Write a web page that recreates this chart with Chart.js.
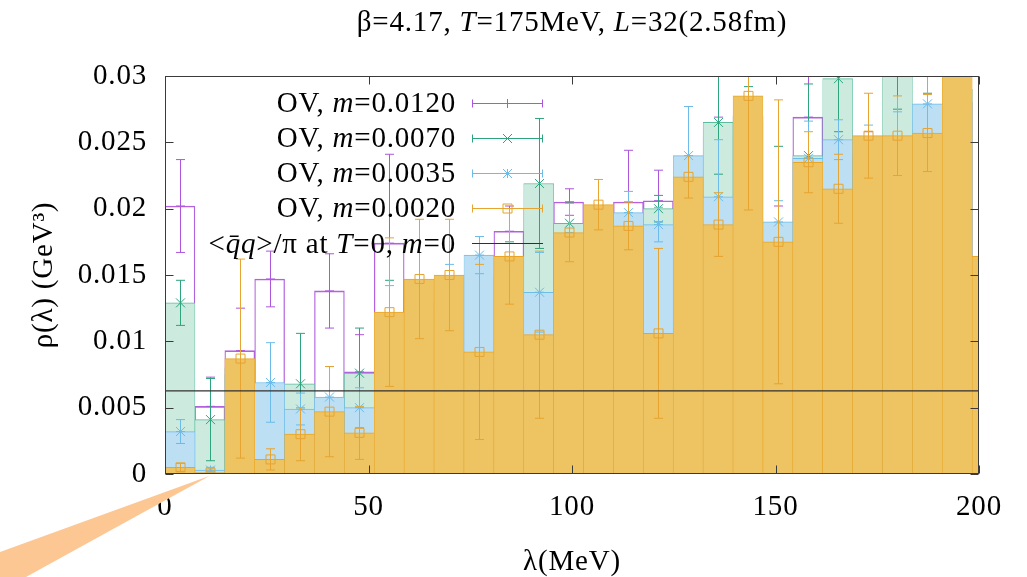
<!DOCTYPE html>
<html><head><meta charset="utf-8">
<script src="https://cdn.jsdelivr.net/npm/chart.js@4.4.0/dist/chart.umd.min.js"></script>
<style>html,body{margin:0;padding:0;background:#fff;} canvas{display:block;}</style>
</head><body>
<canvas id="c" width="1027" height="577"></canvas>
<script>
// ---------- data ----------
const lambdaBins = [3.67, 11.02, 18.37, 25.71, 33.06, 40.40, 47.75, 55.09, 62.44, 69.78,
  77.13, 84.48, 91.82, 99.17, 106.51, 113.86, 121.20, 128.55, 135.89, 143.24,
  150.59, 157.93, 165.28, 172.62, 179.97, 187.31, 194.66, 202.00];

const rhoM0120 = [0.0202, 0.0051, 0.0093, 0.0147, 0.0058, 0.0138, 0.0077, 0.0174, 0.0130, 0.0135,
  0.0150, 0.0183, 0.0200, 0.0205, 0.0190, 0.0205, 0.0206, 0.0225, 0.0255, 0.0270,
  0.0180, 0.0269, 0.0260, 0.0240, 0.0250, 0.0260, 0.0280, 0.0150];
const errM0120 = [0.0035, 0.0022, 0.0032, 0.0021, 0.0008, 0.0028, 0.0028, 0.0067, 0.0012, 0.0010,
  0.0010, 0.0019, 0.0015, 0.0010, 0.0010, 0.0039, 0.0023, 0.0010, 0.0014, 0.0010,
  0.0022, 0.0040, 0.0020, 0.0018, 0.0010, 0.0010, 0.0020, 0.0010];

const rhoM0070 = [0.0129, 0.0041, 0.0080, 0.0062, 0.0068, 0.0050, 0.0076, 0.0112, 0.0125, 0.0130,
  0.0150, 0.0145, 0.0219, 0.0189, 0.0185, 0.0185, 0.0200, 0.0225, 0.0265, 0.0265,
  0.0185, 0.0240, 0.0298, 0.0235, 0.0315, 0.0265, 0.0290, 0.0150];
const errM0070 = [0.0017, 0.0031, 0.0006, 0.0006, 0.0038, 0.0007, 0.0034, 0.0034, 0.0015, 0.0015,
  0.0010, 0.0030, 0.0049, 0.0016, 0.0012, 0.0008, 0.0010, 0.0010, 0.0039, 0.0027,
  0.0062, 0.0054, 0.0040, 0.0015, 0.0040, 0.0022, 0.0030, 0.0010];

const rhoM0035 = [0.0032, 0.0003, 0.0075, 0.0069, 0.0049, 0.0058, 0.0050, 0.0110, 0.0125, 0.0125,
  0.0165, 0.0150, 0.0137, 0.0172, 0.0190, 0.0197, 0.0188, 0.0240, 0.0209, 0.0270,
  0.0190, 0.0238, 0.0252, 0.0240, 0.0245, 0.0279, 0.0290, 0.0150];
const errM0035 = [0.0009, 0.0002, 0.0008, 0.0030, 0.0012, 0.0023, 0.0015, 0.0032, 0.0015, 0.0033,
  0.0014, 0.0012, 0.0030, 0.0010, 0.0010, 0.0016, 0.0013, 0.0037, 0.0043, 0.0010,
  0.0016, 0.0028, 0.0015, 0.0023, 0.0028, 0.0030, 0.0020, 0.0010];

const rhoM0020 = [0.0005, 0.0001, 0.0087, 0.0011, 0.0030, 0.0047, 0.0031, 0.0122, 0.0147, 0.0150,
  0.0092, 0.0164, 0.0105, 0.0182, 0.0203, 0.0187, 0.0106, 0.0224, 0.0188, 0.0285,
  0.0175, 0.0235, 0.0215, 0.0255, 0.0255, 0.0257, 0.0320, 0.0164];
const errM0020 = [0.0003, 0.0001, 0.0075, 0.0008, 0.0020, 0.0034, 0.0020, 0.0056, 0.0045, 0.0042,
  0.0066, 0.0036, 0.0063, 0.0022, 0.0019, 0.0018, 0.0064, 0.0016, 0.0024, 0.0086,
  0.0107, 0.0023, 0.0026, 0.0032, 0.0030, 0.0029, 0.0015, 0.0030];

const condensate = 0.00626;   // <qbar q>/pi at T=0, m=0  (GeV^3)
const xRange = [0, 200];
const yRange = [0, 0.03];
const xTickLabels = ['0', '50', '100', '150', '200'];
const yTickLabels = ['0', '0.005', '0.01', '0.015', '0.02', '0.025', '0.03'];
const seriesLabels = ['OV, *m*=0.0120', 'OV, *m*=0.0070', 'OV, *m*=0.0035', 'OV, *m*=0.0020',
  '<*q\u0304q*>/π at *T*=0, *m*=0'];
const titleText = 'β=4.17, *T*=175MeV, *L*=32(2.58fm)';
const xTitle = 'λ(MeV)';
const yTitle = 'ρ(λ) (GeV³)';

// ---------- styling ----------
const FAMILY = '"Liberation Serif", "Times New Roman", serif';
const FS = 29;
const SPACING = '0.8px';
const tickFont = {family: FAMILY, size: FS};

function richParts(s) {
  return s.split('*').map((t, i) => [t, i % 2 === 1]).filter(p => p[0].length);
}
function drawRich(ctx, str, x, y, align) {
  const parts = richParts(str);
  const fonts = parts.map(p => (p[1] ? 'italic ' : '') + FS + 'px ' + FAMILY);
  let w = 0;
  parts.forEach((p, i) => { ctx.font = fonts[i]; w += ctx.measureText(p[0]).width; });
  let cx = align === 'right' ? x - w : (align === 'center' ? x - w / 2 : x);
  ctx.textAlign = 'left';
  ctx.textBaseline = 'alphabetic';
  parts.forEach((p, i) => { ctx.font = fonts[i]; ctx.fillText(p[0], cx, y); cx += ctx.measureText(p[0]).width; });
}
function drawMarker(ctx, type, x, y) {
  const s = 4.5;
  ctx.beginPath();
  if (type === 'plus' || type === 'star') {
    ctx.moveTo(x - s, y); ctx.lineTo(x + s, y); ctx.moveTo(x, y - s); ctx.lineTo(x, y + s);
  }
  if (type === 'cross' || type === 'star') {
    ctx.moveTo(x - s, y - s); ctx.lineTo(x + s, y + s); ctx.moveTo(x - s, y + s); ctx.lineTo(x + s, y - s);
  }
  if (type === 'square') ctx.rect(x - s, y - s, 2 * s, 2 * s);
  ctx.stroke();
}

function barSet(label, vals, errs, fill, border, errColor, marker, order) {
  return {
    type: 'bar', label, order,
    data: lambdaBins.map((x, i) => ({x, y: vals[i]})),
    errors: errs, errColor, marker,
    backgroundColor: fill, borderColor: border,
    borderWidth: {top: 1, left: 0.6, right: 0.6, bottom: 0},
    borderSkipped: false,
    barPercentage: 1, categoryPercentage: 1, grouped: false, clip: 0
  };
}

const datasets = [
  barSet(seriesLabels[0], rhoM0120, errM0120, 'rgba(255,255,255,0)', '#b262de', '#ad55dc', 'plus', 4),
  barSet(seriesLabels[1], rhoM0070, errM0070, '#cdeadf', '#5bbd9b', '#2ea47e', 'cross', 3),
  barSet(seriesLabels[2], rhoM0035, errM0035, '#bcdff4', '#6dbdea', '#6cbbe8', 'star', 2),
  barSet(seriesLabels[3], rhoM0020, errM0020, '#eec362', '#e8a627', '#e6a430', 'square', 1),
  {
    type: 'line', label: seriesLabels[4], order: 0,
    data: [{x: xRange[0], y: condensate}, {x: xRange[1], y: condensate}],
    borderColor: '#303030', borderWidth: 1.2, pointRadius: 0, fill: false, clip: 0
  }
];

const bgPlugin = {
  id: 'bg',
  beforeInit(chart) { chart.ctx.letterSpacing = SPACING; },
  beforeDraw(chart) {
    const ctx = chart.ctx;
    ctx.letterSpacing = SPACING;
    ctx.save(); ctx.fillStyle = '#fff'; ctx.fillRect(0, 0, chart.width, chart.height); ctx.restore();
  }
};

const errPlugin = {
  id: 'errbars',
  afterDatasetDraw(chart, args) {
    const ds = chart.data.datasets[args.index];
    if (!ds.errors) return;
    const ctx = chart.ctx, ys = chart.scales.y, a = chart.chartArea;
    ctx.save();
    ctx.beginPath(); ctx.rect(a.left, a.top, a.right - a.left, a.bottom - a.top); ctx.clip();
    ctx.strokeStyle = ds.errColor; ctx.lineWidth = 1;
    args.meta.data.forEach((bar, i) => {
      const x = Math.round(bar.x) + 0.5;
      const v = ds.data[i].y, e = ds.errors[i];
      const y1 = ys.getPixelForValue(v + e), y2 = ys.getPixelForValue(v - e), yc = ys.getPixelForValue(v);
      ctx.beginPath();
      ctx.moveTo(x, y1); ctx.lineTo(x, y2);
      ctx.moveTo(x - 4.5, y1); ctx.lineTo(x + 4.5, y1);
      ctx.moveTo(x - 4.5, y2); ctx.lineTo(x + 4.5, y2);
      ctx.stroke();
      drawMarker(ctx, ds.marker, x, yc);
    });
    ctx.restore();
  }
};

const framePlugin = {
  id: 'frame',
  afterDatasetsDraw(chart) {
    const {ctx, chartArea: a, scales: {x, y}} = chart;
    ctx.save();
    ctx.strokeStyle = '#3a3a3a'; ctx.lineWidth = 1;
    const L = Math.round(a.left) + 0.5, R = Math.round(a.right) - 0.5;
    const T = Math.round(a.top) + 0.5, B = Math.round(a.bottom) - 0.5;
    ctx.beginPath();
    y.ticks.forEach(t => {
      const py = Math.round(y.getPixelForValue(t.value)) + 0.5;
      ctx.moveTo(L, py); ctx.lineTo(L + 8, py);
      ctx.moveTo(R, py); ctx.lineTo(R - 8, py);
    });
    x.ticks.forEach(t => {
      const px = Math.round(x.getPixelForValue(t.value)) + 0.5;
      ctx.moveTo(px, B); ctx.lineTo(px, B - 8);
      ctx.moveTo(px, T); ctx.lineTo(px, T + 8);
    });
    ctx.stroke();
    ctx.strokeRect(L, T, R - L, B - T);
    ctx.restore();
  },
  afterDraw(chart) {
    const {ctx, chartArea: a, scales: {x, y}} = chart;
    ctx.save();
    ctx.letterSpacing = SPACING;
    // title
    ctx.fillStyle = '#000';
    drawRich(ctx, titleText, (a.left + a.right) / 2, 31, 'center');
    // key
    const rows = [102.7, 137.7, 172.7, 207.7, 243.3];
    const ds = chart.data.datasets;
    rows.forEach((ry, i) => {
      ctx.fillStyle = '#000';
      drawRich(ctx, seriesLabels[i], 456, ry + 9.5, 'right');
      const d = ds[i];
      const yy = Math.round(ry) + 0.5;
      ctx.lineWidth = i === 4 ? 1.2 : 1;
      ctx.strokeStyle = i === 4 ? '#303030' : d.errColor;
      ctx.beginPath();
      ctx.moveTo(472, yy); ctx.lineTo(543, yy);
      if (i < 4) {
        ctx.moveTo(472.5, yy - 4); ctx.lineTo(472.5, yy + 4);
        ctx.moveTo(542.5, yy - 4); ctx.lineTo(542.5, yy + 4);
      }
      ctx.stroke();
      if (i < 4) drawMarker(ctx, d.marker, 507.5, yy);
    });
    // callout wedge from the slide, pointing at the m=0.0020 value of the second bin
    const tipX = x.getPixelForValue(lambdaBins[1]);
    const tipY = y.getPixelForValue(rhoM0020[1]) + 3;
    ctx.fillStyle = '#fdc794';
    ctx.beginPath();
    ctx.moveTo(tipX, tipY); ctx.lineTo(0, 552); ctx.lineTo(0, 577); ctx.lineTo(26, 577);
    ctx.closePath(); ctx.fill();
    ctx.restore();
  }
};

new Chart(document.getElementById('c'), {
  type: 'bar',
  data: {datasets},
  options: {
    responsive: false, animation: false, devicePixelRatio: 1,
    layout: {padding: {top: 76, right: 48, left: 0, bottom: 0}},
    plugins: {legend: {display: false}, title: {display: false}, tooltip: {enabled: false}},
    scales: {
      x: {
        type: 'linear', min: xRange[0], max: xRange[1], offset: false,
        grid: {display: false, drawTicks: false}, border: {display: false},
        ticks: {stepSize: 50, font: tickFont, color: '#000', padding: 16, maxRotation: 0, autoSkip: false,
          callback: v => xTickLabels.find(l => Math.abs(parseFloat(l) - v) < 1e-9) ?? ''},
        title: {display: true, text: xTitle, font: tickFont, color: '#000', padding: {top: 0, bottom: -3}},
        afterFit: s => { s.height = 103; }
      },
      y: {
        min: yRange[0], max: yRange[1],
        grid: {display: false, drawTicks: false}, border: {display: false},
        ticks: {stepSize: 0.005, font: tickFont, color: '#000', padding: 18,
          callback: v => yTickLabels.find(l => Math.abs(parseFloat(l) - v) < 1e-9) ?? ''},
        title: {display: true, text: yTitle, font: tickFont, color: '#000', padding: {top: 27, bottom: 0}},
        afterFit: s => { s.width = 165; }
      }
    }
  },
  plugins: [bgPlugin, errPlugin, framePlugin]
});
</script>
</body></html>
